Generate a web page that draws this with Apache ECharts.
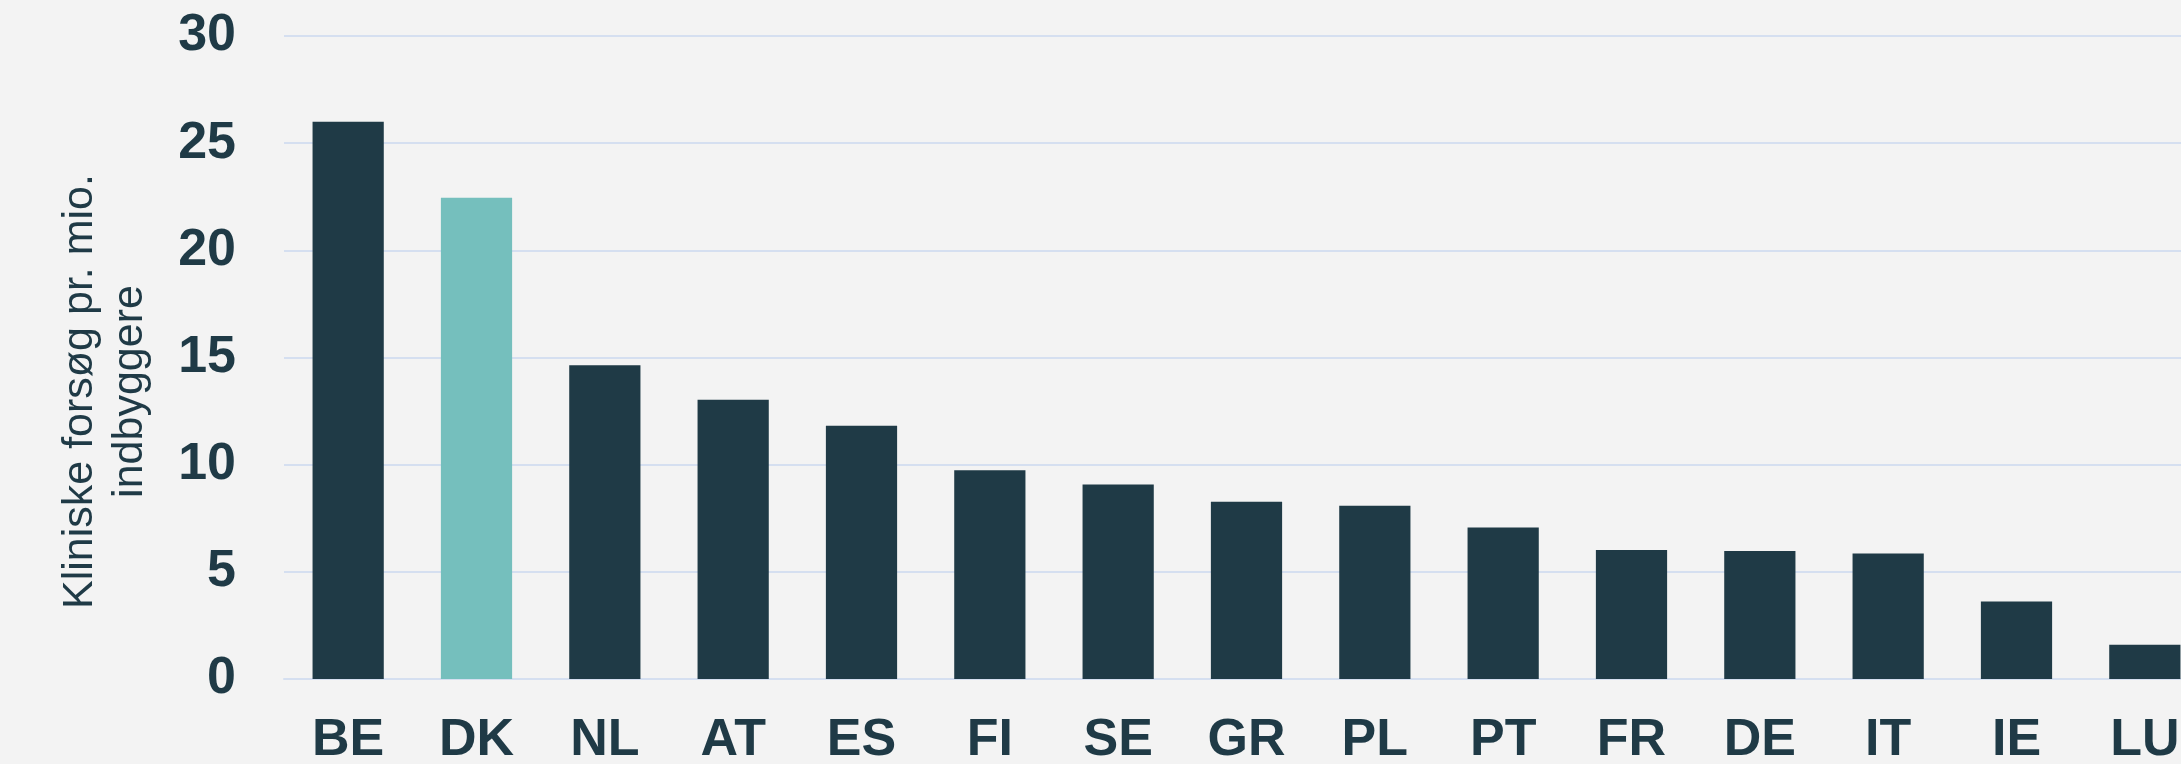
<!DOCTYPE html>
<html>
<head>
<meta charset="utf-8">
<script src="https://cdn.jsdelivr.net/npm/echarts@6/dist/echarts.min.js"></script>
<style>
  html, body { margin: 0; padding: 0; background: #f3f3f3; }
  #chart { width: 2181px; height: 764px; }
</style>
</head>
<body>
<div id="chart"></div>
<script>
// lande og værdier
let countries = ["BE", "DK", "NL", "AT", "ES", "FI", "SE", "GR", "PL", "PT", "FR", "DE", "IT", "IE", "LU"];
let trialsPerMio = [26.0, 22.45, 14.64, 13.03, 11.82, 9.74, 9.07, 8.27, 8.08, 7.07, 6.02, 5.97, 5.85, 3.62, 1.6];
let highlight = "DK";
let yTicks = [0, 5, 10, 15, 20, 25, 30];

let dark = "#1f3a46";
let teal = "#75bfbd";

let myChart = echarts.init(document.getElementById("chart"));

let barData = trialsPerMio.map((v, i) => {
  return {
    value: v,
    itemStyle: { color: countries[i] == highlight ? teal : dark },
  };
});

let option = {
  backgroundColor: "#f3f3f3",
  animation: false,
  textStyle: {
    fontFamily: "Liberation Sans, Arial, sans-serif",
    color: dark,
  },
  grid: {
    left: 284,
    top: 36,
    // figuren er beskåret i højre side, plottet går ud over kanten
    width: 1925,
    height: 643,
    outerBoundsMode: "none",
    containLabel: false,
  },
  xAxis: {
    type: "category",
    data: countries,
    axisTick: { show: false },
    axisLine: { lineStyle: { color: "#d5dff0", width: 2 } },
    axisLabel: {
      color: dark,
      fontSize: 52,
      fontWeight: "bold",
      margin: 36,
    },
  },
  yAxis: {
    type: "value",
    min: yTicks[0],
    max: yTicks[yTicks.length - 1],
    interval: 5,
    name: "Kliniske forsøg pr. mio.\nindbyggere",
    nameLocation: "middle",
    nameGap: 129,
    nameTextStyle: {
      color: dark,
      fontSize: 43,
      lineHeight: 50,
      padding: [0, 68, 0, 0],
    },
    axisLine: { show: false },
    axisTick: { show: false },
    axisLabel: {
      color: dark,
      fontSize: 52,
      fontWeight: "bold",
      margin: 48,
    },
    splitLine: { lineStyle: { color: "#d5dff0", width: 2 } },
  },
  series: [
    {
      type: "bar",
      barWidth: "55.5%",
      data: barData,
    },
  ],
};
myChart.setOption(option);
</script>
</body>
</html>
